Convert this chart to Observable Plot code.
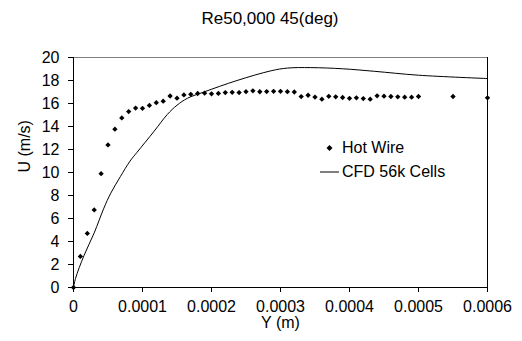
<!DOCTYPE html>
<html>
<head>
<meta charset="utf-8">
<script src="https://cdn.jsdelivr.net/npm/d3@7"></script>
<script src="https://cdn.jsdelivr.net/npm/@observablehq/plot@0.6"></script>
<style>
  html, body { margin: 0; padding: 0; background: #fff; }
  body { font-family: "Liberation Sans", Arial, sans-serif; color: #000; }
  #wrap { position: relative; width: 522px; height: 341px; overflow: hidden; }
  #title { position: absolute; left: 0; top: 9px; width: 540px; text-align: center;
           font-size: 17px; line-height: 20px; }
  #legend { position: absolute; left: 318px; top: 136px; font-size: 16px; line-height: 24px; }
  #legend .row { display: flex; align-items: center; height: 24px; }
  #legend svg { width: 23px; height: 24px; flex: none; }
</style>
</head>
<body>
<div id="wrap">
  <div id="chart"></div>
  <div id="title">Re50,000 45(deg)</div>
  <div id="legend"></div>
</div>
<script>
// Hot wire measurements: Y (m) and U (m/s)
const hwY = [0, 0.00001, 0.00002, 0.00003, 0.00004, 0.00005, 0.00006, 0.00007, 0.00008, 0.00009,
  0.0001, 0.00011, 0.00012, 0.00013, 0.00014, 0.00015, 0.00016, 0.00017, 0.00018, 0.00019,
  0.0002, 0.00021, 0.00022, 0.00023, 0.00024, 0.00025, 0.00026, 0.00027, 0.00028, 0.00029,
  0.0003, 0.00031, 0.00032, 0.00033, 0.00034, 0.00035, 0.00036, 0.00037, 0.00038, 0.00039,
  0.0004, 0.00041, 0.00042, 0.00043, 0.00044, 0.00045, 0.00046, 0.00047, 0.00048, 0.00049,
  0.0005, 0.00055, 0.0006];
const hwU = [0, 2.7, 4.7, 6.75, 9.9, 12.4, 13.77, 14.75, 15.3, 15.6,
  15.58, 15.83, 16.07, 16.2, 16.65, 16.46, 16.75, 16.8, 16.87, 16.9,
  16.84, 16.88, 16.95, 16.97, 16.95, 17.03, 17.1, 17.02, 17.04, 17.06,
  17.06, 17.03, 17.0, 16.6, 16.72, 16.56, 16.38, 16.62, 16.58, 16.52,
  16.45, 16.49, 16.43, 16.38, 16.67, 16.64, 16.61, 16.58, 16.55, 16.55,
  16.61, 16.61, 16.49];

// CFD 56k cells profile
const cfdY = [0, 0.000003, 0.000015, 0.00003, 0.000044, 0.000054, 0.000068, 0.000082, 0.000092,
  0.000117, 0.000136, 0.00015, 0.000165, 0.000189, 0.000237, 0.000286, 0.00031, 0.000344,
  0.00039, 0.000436, 0.0005, 0.0006];
const cfdU = [0, 0.8, 2.75, 4.75, 6.9, 8.2, 9.65, 11.0, 11.75,
  13.6, 15.05, 15.85, 16.45, 17.0, 18.0, 18.84, 19.08, 19.12,
  19.02, 18.8, 18.46, 18.17];

const xTicks = [0, 0.0001, 0.0002, 0.0003, 0.0004, 0.0005, 0.0006];
const xTickLabels = ["0", "0.0001", "0.0002", "0.0003", "0.0004", "0.0005", "0.0006"];
const yTicks = [0, 2, 4, 6, 8, 10, 12, 14, 16, 18, 20];

const title = "Re50,000 45(deg)";
const xLabel = "Y (m)";
const yLabel = "U (m/s)";
const seriesNames = ["Hot Wire", "CFD 56k Cells"];

const hw = hwY.map((y, i) => ({y, u: hwU[i]}));
const cfd = cfdY.map((y, i) => ({y, u: cfdU[i]}));

const plot = Plot.plot({
  width: 522,
  height: 341,
  marginLeft: 73,
  marginRight: 35,
  marginTop: 57,
  marginBottom: 54,
  style: {fontFamily: "Liberation Sans, Arial, sans-serif", fontSize: "16px", color: "#000", background: "#fff"},
  x: {domain: [0, 0.0006]},
  y: {domain: [0, 20]},
  marks: [
    Plot.ruleY([20], {stroke: "#808080", strokeWidth: 1}),
    Plot.ruleX([0.0006], {stroke: "#000", strokeWidth: 1}),
    Plot.line(cfd, {x: "y", y: "u", stroke: "#000", strokeWidth: 1, curve: "catmull-rom"}),
    Plot.dot(hw, {x: "y", y: "u", symbol: "diamond2", r: 2.4, fill: "#000", stroke: "none"}),
    Plot.ruleX([0], {stroke: "#000", strokeWidth: 1}),
    Plot.ruleY([0], {stroke: "#000", strokeWidth: 1}),
    Plot.axisX({ticks: xTicks, tickSize: 5, tickPadding: 8, label: null,
      tickFormat: d => xTickLabels[xTicks.indexOf(d)] ?? String(d)}),
    Plot.axisY({ticks: yTicks, tickSize: 5, tickPadding: 9, label: null}),
    Plot.text([xLabel], {frameAnchor: "bottom", dy: 40, lineAnchor: "bottom", fontSize: 16}),
    Plot.text([yLabel], {frameAnchor: "left", dx: -49, rotate: -90, lineAnchor: "middle", fontSize: 16})
  ]
});
document.getElementById("chart").appendChild(plot);
document.getElementById("title").textContent = title;

const legend = document.getElementById("legend");
legend.innerHTML = `
  <div class="row"><svg viewBox="0 0 23 24"><path d="M11.5 9 L14.5 12 L11.5 15 L8.5 12 Z" fill="#000"/></svg><span style="margin-left:1px">${seriesNames[0]}</span></div>
  <div class="row"><svg viewBox="0 0 23 24"><line x1="2" x2="21" y1="12" y2="12" stroke="#000" stroke-width="1"/></svg><span style="margin-left:1px">${seriesNames[1]}</span></div>`;
</script>
</body>
</html>
